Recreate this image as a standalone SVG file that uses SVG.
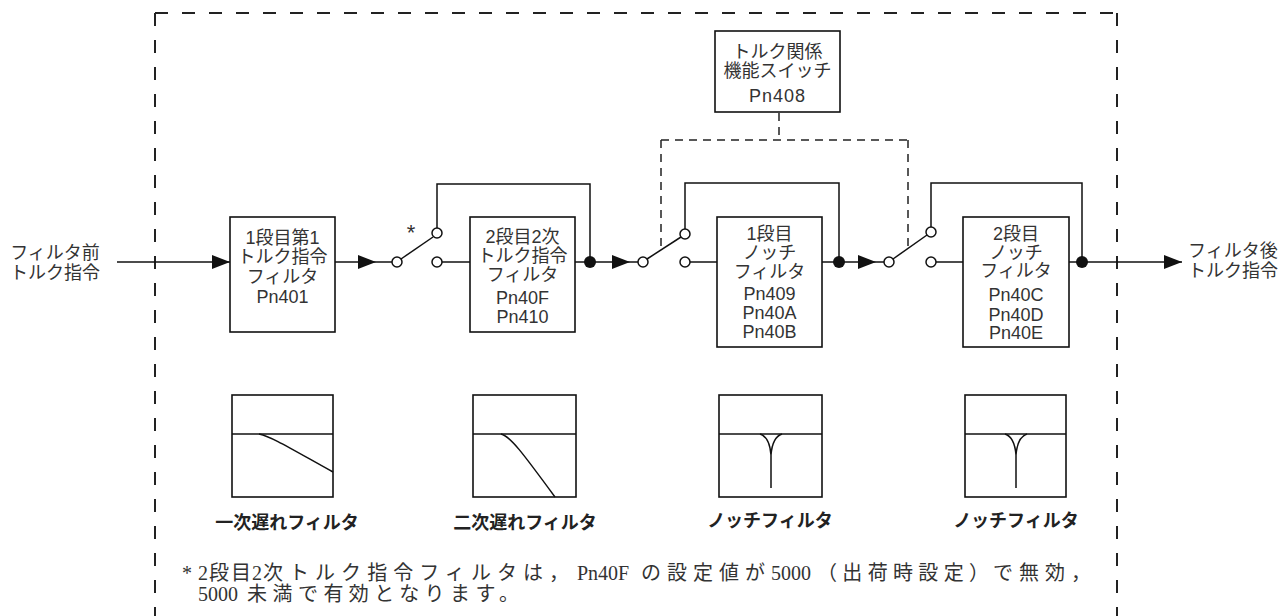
<svg xmlns="http://www.w3.org/2000/svg" width="1284" height="616" viewBox="0 0 1284 616">
<defs>
<style>
.bx{fill:#fff;stroke:#111;stroke-width:1.6}
.ln{fill:none;stroke:#111;stroke-width:1.5}
.bd{fill:none;stroke:#222;stroke-width:2;stroke-dasharray:13 14}
.cd{fill:none;stroke:#222;stroke-width:1.5;stroke-dasharray:8 6}
.ct{fill:#fff;stroke:#111;stroke-width:1.5}
.dot{fill:#111}
.ar{fill:#111}
.t{font-family:"Liberation Sans","Noto Sans CJK JP",sans-serif;font-size:18px;fill:#333;text-anchor:middle}
.tl{font-family:"Liberation Sans","Noto Sans CJK JP",sans-serif;font-size:18px;fill:#333}
.gl{font-family:"Liberation Sans","Noto Sans CJK JP",sans-serif;font-size:18px;fill:#222;text-anchor:middle;font-weight:bold}
.fn{font-family:"Liberation Serif","Noto Sans CJK JP",serif;font-size:20px;fill:#333}
</style>
</defs>
<rect width="1284" height="616" fill="#fff"/>

<g id="border">
<path class="bd" d="M155,13 H1117 M155,13 V616 M1117,13 V616"/>
</g>

<g id="connectors">
<path class="ln" d="M117,262 H230"/>
<polygon class="ar" points="212,255 230,262 212,269"/>
<path class="ln" d="M335,262 H392"/>
<polygon class="ar" points="358,255 376,262 358,269"/>
<path class="ln" d="M442,262 H470"/>
<path class="ln" d="M575,262 H638"/>
<polygon class="ar" points="612,255 630,262 612,269"/>
<path class="ln" d="M690,262 H717"/>
<path class="ln" d="M822,262 H884"/>
<polygon class="ar" points="858,255 876,262 858,269"/>
<path class="ln" d="M936,262 H963"/>
<path class="ln" d="M1069,262 H1182"/>
<polygon class="ar" points="1164,255 1182,262 1164,269"/>
<path class="ln" d="M437,228 V184 H590 V262"/>
<path class="ln" d="M685,229 V183 H839 V262"/>
<path class="ln" d="M931,227 V183 H1082 V262"/>
<path class="ln" d="M401,259 L433,237"/>
<path class="ln" d="M647,259 L681,237"/>
<path class="ln" d="M893,259 L927,235"/>
<path class="cd" d="M779,113 V140 M661,140 H908 M661,140 V250 M908,140 V248"/>
<circle class="ct" cx="397" cy="262" r="5"/>
<circle class="ct" cx="437" cy="233" r="5"/>
<circle class="ct" cx="437" cy="262" r="5"/>
<circle class="ct" cx="643" cy="262" r="5"/>
<circle class="ct" cx="685" cy="234" r="5"/>
<circle class="ct" cx="685" cy="262" r="5"/>
<circle class="ct" cx="889" cy="262" r="5"/>
<circle class="ct" cx="931" cy="232" r="5"/>
<circle class="ct" cx="931" cy="262" r="5"/>
<circle class="dot" cx="590" cy="262" r="6"/>
<circle class="dot" cx="839" cy="262" r="6"/>
<circle class="dot" cx="1082" cy="262" r="6"/>
</g>

<g id="input">
<text class="t" x="55" y="259">フィルタ前</text>
<text class="t" x="55" y="279">トルク指令</text>
</g>

<g id="output">
<text class="tl" x="1188" y="257">フィルタ後</text>
<text class="tl" x="1188" y="277">トルク指令</text>
</g>

<g id="star">
<text class="t" x="411" y="240" style="font-size:22px">*</text>
</g>

<g id="filter1">
<rect class="bx" x="230" y="217" width="105" height="115"/>
<text class="t" x="282.5" y="244">1段目第1</text>
<text class="t" x="282.5" y="263">トルク指令</text>
<text class="t" x="282.5" y="283">フィルタ</text>
<text class="t" x="282.5" y="303">Pn401</text>
</g>

<g id="filter2">
<rect class="bx" x="470" y="217" width="105" height="115"/>
<text class="t" x="522.5" y="243">2段目2次</text>
<text class="t" x="522.5" y="262">トルク指令</text>
<text class="t" x="522.5" y="281">フィルタ</text>
<text class="t" x="522.5" y="304">Pn40F</text>
<text class="t" x="522.5" y="323">Pn410</text>
</g>

<g id="notch1">
<rect class="bx" x="717" y="217" width="105" height="130"/>
<text class="t" x="769.5" y="240">1段目</text>
<text class="t" x="769.5" y="259">ノッチ</text>
<text class="t" x="769.5" y="278">フィルタ</text>
<text class="t" x="769.5" y="300">Pn409</text>
<text class="t" x="769.5" y="319">Pn40A</text>
<text class="t" x="769.5" y="338">Pn40B</text>
</g>

<g id="notch2">
<rect class="bx" x="963" y="217" width="106" height="130"/>
<text class="t" x="1016" y="240">2段目</text>
<text class="t" x="1016" y="259">ノッチ</text>
<text class="t" x="1016" y="277">フィルタ</text>
<text class="t" x="1016" y="301">Pn40C</text>
<text class="t" x="1016" y="321">Pn40D</text>
<text class="t" x="1016" y="339">Pn40E</text>
</g>

<g id="switch-pn408">
<rect class="bx" x="715" y="31" width="125" height="81"/>
<text class="t" x="777.5" y="58">トルク関係</text>
<text class="t" x="777.5" y="77">機能スイッチ</text>
<text class="t" x="777.5" y="102" letter-spacing="1">Pn408</text>
</g>

<g id="graph1">
<rect class="bx" x="232" y="395" width="101" height="102"/>
<path class="ln" d="M232,434 H333"/>
<path class="ln" d="M259,434 C272,437 288,447 333,472"/>
<text class="gl" x="287" y="529">一次遅れフィルタ</text>
</g>

<g id="graph2">
<rect class="bx" x="473" y="395" width="103" height="102"/>
<path class="ln" d="M473,434 H576"/>
<path class="ln" d="M501,434 C510,436 522,452 555,497"/>
<text class="gl" x="525" y="529">二次遅れフィルタ</text>
</g>

<g id="graph3">
<rect class="bx" x="719" y="395" width="103" height="102"/>
<path class="ln" d="M719,434 H822"/>
<path class="ln" d="M760,434 C766,436 770,442 771,455 C772,442 776,436 782,434 M771,455 V488"/>
<text class="gl" x="770" y="527">ノッチフィルタ</text>
</g>

<g id="graph4">
<rect class="bx" x="965" y="395" width="101" height="102"/>
<path class="ln" d="M965,434 H1066"/>
<path class="ln" d="M1005,434 C1011,436 1015,442 1016,455 C1017,442 1021,436 1027,434 M1016,455 V488"/>
<text class="gl" x="1016" y="527">ノッチフィルタ</text>
</g>

<g id="footnote">
<text class="fn" y="580"><tspan x="182">*</tspan><tspan x="198">2</tspan><tspan x="209" textLength="42" lengthAdjust="spacing">段目</tspan><tspan x="252">2</tspan><tspan x="263" textLength="306" lengthAdjust="spacing">次トルク指令フィルタは，</tspan><tspan x="577">Pn40F</tspan><tspan x="641" textLength="124" lengthAdjust="spacing">の設定値が</tspan><tspan x="771">5000</tspan><tspan x="817" textLength="172" lengthAdjust="spacing">（出荷時設定）</tspan><tspan x="993" textLength="98" lengthAdjust="spacing">で無効，</tspan></text>
<text class="fn" y="601"><tspan x="198">5000</tspan><tspan x="247" textLength="272" lengthAdjust="spacing">未満で有効となります。</tspan></text>
</g>
</svg>
